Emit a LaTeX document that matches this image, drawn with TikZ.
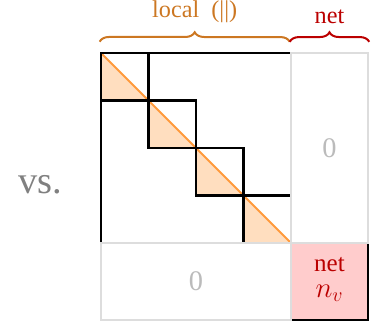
\documentclass[tikz,border=0pt]{standalone}
\usepackage{fontspec}
\setmainfont{Liberation Serif}
\usetikzlibrary{positioning,decorations.pathreplacing}
\definecolor{localorange}{HTML}{CC7722}
\definecolor{diagorange}{HTML}{FF9A3C}
\definecolor{blockfill}{HTML}{FFDEBF}
\definecolor{netred}{HTML}{BB0000}
\definecolor{netfill}{HTML}{FFCCCC}
\definecolor{zerogray}{HTML}{BBBBBB}
\definecolor{boxgray}{HTML}{DDDDDD}

\begin{document}
\begin{tikzpicture}[
    blk/.style={draw, line width=1.6pt, minimum size=1cm, inner sep=0pt},
    zerobox/.style={draw=boxgray, line width=1.5pt, fill=white, inner sep=0pt, text=zerogray, font=\fontsize{17}{17}\selectfont},
    netcell/.style={draw, line width=1.6pt, fill=netfill, minimum size=1.62cm, inner sep=0pt},
    celltext/.style={anchor=base, inner sep=0pt, text=netred},
    brace/.style={decorate, decoration={brace, amplitude=0.2cm}, line width=1.2pt},
    bracelabel/.style={anchor=base, font=\fontsize{14.5}{14.5}\selectfont}
]
\useasboundingbox (-2.126,1.116) rectangle (5.958,-5.811);

% lower triangles of the diagonal blocks
\foreach \i in {0,...,3}
    \fill[blockfill] (\i,-\i) -- (\i,-\i-1) -- (\i+1,-\i-1) -- cycle;
\draw[diagorange, line width=1.1pt] (0,0) -- (4,-4);

% local part
\draw[line width=1.6pt] (4,0) -- (0,0) -- (0,-4);
\foreach \i in {0,...,3}
    \node[blk] (blk\i) at (\i+0.5,-\i-0.5) {};

% net part
\node[netcell] (netnet) at (4.81,-4.81) {};
\node[celltext, font=\fontsize{15}{15}\selectfont] (nettxt) at ([yshift=0.21cm]netnet.center) {net};
\node[celltext, font=\fontsize{18}{18}\selectfont] (nvtxt) at ([yshift=-0.33cm]netnet.center) {$n_v$};
\node[zerobox, minimum width=1.62cm, minimum height=4cm] (netcol) at (4.81,-2) {0};
\node[zerobox, minimum width=4cm, minimum height=1.62cm] (zerorow) at (2,-4.81) {0};

% braces
\draw[brace, localorange] ([yshift=0.21cm]blk0.north west) -- ([yshift=0.21cm]netcol.north west)
    node[bracelabel, pos=0.5, yshift=0.5cm] (locallbl) {local\hspace{0.5em}(||)};
\draw[brace, netred] ([yshift=0.21cm]netcol.north west) -- ([yshift=0.21cm]netcol.north east)
    node[bracelabel, pos=0.5, yshift=0.38cm] (netlbl) {net};

\node[anchor=base, text=gray, font=\fontsize{23}{23}\selectfont] (vs) at (-1.28,-2.95) {vs.};

\end{tikzpicture}
\end{document}
